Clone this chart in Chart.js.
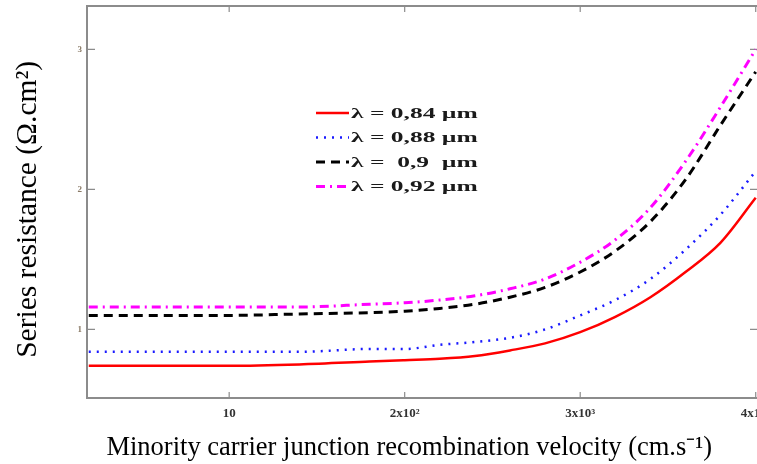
<!DOCTYPE html>
<html>
<head>
<meta charset="utf-8">
<script src="https://cdn.jsdelivr.net/npm/chart.js@4.4.1/dist/chart.umd.min.js"></script>
<style>
  html, body { margin: 0; padding: 0; background: #fff; overflow: hidden; }
  canvas { display: block; }
</style>
</head>
<body>
<canvas id="resistanceChart" width="800" height="464"></canvas>
<script>
// Values (x is the position along the tick scale 10 .. 4x10^4)
const velocity = [0.2, 0.6, 1.0, 1.4, 1.8, 2.0, 2.2, 2.4, 2.6, 2.8, 3.0, 3.2, 3.4, 3.6, 3.8, 4.0];
const rs084 = [0.74, 0.74, 0.74, 0.75, 0.77, 0.78, 0.79, 0.81, 0.85, 0.90, 0.98, 1.09, 1.23, 1.41, 1.62, 1.94];
const rs088 = [0.84, 0.84, 0.84, 0.84, 0.86, 0.86, 0.89, 0.91, 0.94, 1.00, 1.10, 1.21, 1.36, 1.57, 1.82, 2.13];
const rs090 = [1.10, 1.10, 1.10, 1.11, 1.12, 1.13, 1.15, 1.18, 1.23, 1.30, 1.41, 1.56, 1.77, 2.07, 2.46, 2.84];
const rs092 = [1.16, 1.16, 1.16, 1.16, 1.18, 1.19, 1.21, 1.24, 1.29, 1.36, 1.48, 1.64, 1.87, 2.20, 2.59, 3.00];

const xTickValues = [1, 2, 3, 4];
const xTickLabels = ['10', '2x10²', '3x10³', '4x10⁴'];
const yTickValues = [1, 2, 3];
const seriesLabels = ['λ = 0,84 µm', 'λ = 0,88 µm', 'λ =  0,9  µm', 'λ = 0,92 µm'];

const axisGray = '#8c8c8c';

// Function to pair x and y arrays for a linear x axis
function toPoints(values) {
  return velocity.map((v, i) => ({ x: v, y: values[i] }));
}

// Frame and inward tick marks, like the original plot
const framePlugin = {
  id: 'frame',
  beforeDatasetsDraw(chart) {
    const { ctx, chartArea: a, scales } = chart;
    ctx.save();
    ctx.strokeStyle = axisGray;
    ctx.lineWidth = 2;
    ctx.strokeRect(a.left, a.top, a.right - a.left, a.bottom - a.top);
    ctx.lineWidth = 1.2;
    ctx.beginPath();
    xTickValues.forEach(v => {
      const px = scales.x.getPixelForValue(v);
      ctx.moveTo(px, a.bottom); ctx.lineTo(px, a.bottom - 6);
      ctx.moveTo(px, a.top); ctx.lineTo(px, a.top + 6);
    });
    yTickValues.forEach(v => {
      const py = scales.y.getPixelForValue(v);
      ctx.moveTo(a.left, py); ctx.lineTo(a.left + 8, py);
      ctx.moveTo(a.right, py); ctx.lineTo(a.right - 8, py);
    });
    ctx.stroke();
    ctx.restore();
  }
};

// Legend drawn inside the plot area
const innerLegendPlugin = {
  id: 'innerLegend',
  afterDatasetsDraw(chart) {
    const { ctx, chartArea: a } = chart;
    const x0 = a.left + 229;
    const y0 = a.top + 107;
    ctx.save();
    chart.data.datasets.forEach((ds, i) => {
      const y = y0 + i * 24.5;
      ctx.strokeStyle = ds.borderColor;
      ctx.lineWidth = ds.borderWidth;
      ctx.setLineDash(ds.borderDash || []);
      ctx.beginPath();
      ctx.moveTo(x0, y); ctx.lineTo(x0 + 33, y);
      ctx.stroke();
      ctx.setLineDash([]);
      ctx.save();
      ctx.translate(x0 + 35, y);
      ctx.scale(1.7, 1);
      ctx.fillStyle = '#1a1a1a';
      ctx.font = 'bold 15px "Liberation Serif"';
      ctx.textBaseline = 'middle';
      ctx.fillText(ds.label, 0, 1);
      ctx.restore();
    });
    ctx.restore();
  }
};

function initResistanceChart() {
  const ctx = document.getElementById('resistanceChart').getContext('2d');

  new Chart(ctx, {
    type: 'line',
    data: {
      datasets: [{
        label: seriesLabels[0],
        data: toPoints(rs084),
        borderColor: '#ff0000',
        borderWidth: 2.5
      }, {
        label: seriesLabels[1],
        data: toPoints(rs088),
        borderColor: '#1a1aff',
        borderWidth: 2.5,
        borderDash: [2, 6]
      }, {
        label: seriesLabels[2],
        data: toPoints(rs090),
        borderColor: '#000000',
        borderWidth: 3,
        borderDash: [9, 6]
      }, {
        label: seriesLabels[3],
        data: toPoints(rs092),
        borderColor: '#ff00ff',
        borderWidth: 3,
        borderDash: [9, 5, 2, 5]
      }]
    },
    options: {
      responsive: false,
      animation: false,
      layout: { padding: { left: 0, top: 6, right: 42, bottom: 0 } },
      elements: {
        point: { radius: 0 },
        line: { cubicInterpolationMode: 'monotone', fill: false }
      },
      plugins: {
        legend: { display: false },
        tooltip: { enabled: false }
      },
      scales: {
        x: {
          type: 'linear',
          min: 0.19,
          max: 4.013,
          afterBuildTicks: scale => { scale.ticks = xTickValues.map(v => ({ value: v })); },
          afterFit: scale => {
            scale.height = 66;
            scale.paddingLeft = 0;
            scale.paddingRight = 0;
          },
          grid: { display: false, drawTicks: false },
          border: { display: false },
          ticks: {
            autoSkip: false,
            maxRotation: 0,
            padding: 8,
            color: '#333',
            font: { family: 'Liberation Serif', size: 13, weight: 'bold' },
            callback: value => xTickLabels[xTickValues.indexOf(value)]
          },
          title: {
            display: true,
            text: 'Minority carrier junction recombination velocity (cm.s⁻¹)\u00a0\u00a0\u00a0\u00a0',
            color: '#000',
            font: { family: 'Liberation Serif', size: 26.5 },
            padding: { top: 2, bottom: 0 }
          }
        },
        y: {
          min: 0.51,
          max: 3.31,
          afterBuildTicks: scale => { scale.ticks = yTickValues.map(v => ({ value: v })); },
          afterFit: scale => {
            scale.width = 87;
            scale.paddingTop = 0;
            scale.paddingBottom = 0;
          },
          grid: { display: false, drawTicks: false },
          border: { display: false },
          ticks: {
            padding: 5,
            color: '#8a7a66',
            font: { family: 'Liberation Serif', size: 9, weight: 'bold' }
          },
          title: {
            display: true,
            text: 'Series resistance (Ω.cm²)\u00a0\u00a0',
            color: '#000',
            font: { family: 'Liberation Serif', size: 29.5 },
            padding: { top: 11, bottom: 0 }
          }
        }
      }
    },
    plugins: [framePlugin, innerLegendPlugin]
  });
}

document.addEventListener('DOMContentLoaded', () => {
  initResistanceChart();
});
</script>
</body>
</html>
